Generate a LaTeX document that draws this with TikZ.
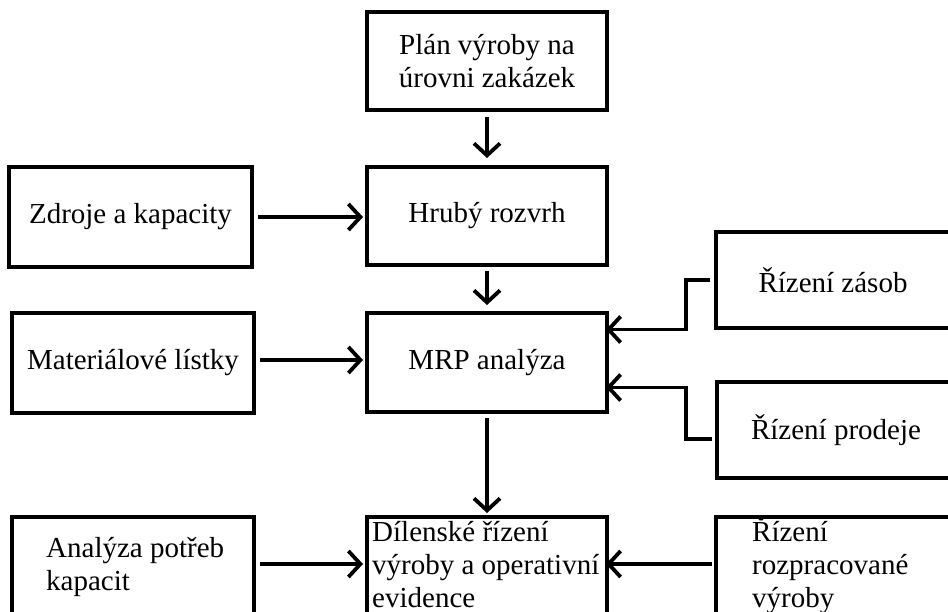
\documentclass[tikz,border=0pt]{standalone}
\usepackage{fontspec}
\setmainfont{Liberation Serif}
\usetikzlibrary{arrows.meta}
\begin{document}
\begin{tikzpicture}[x=1pt,y=-1pt,
  txt/.style={font=\fontsize{29}{33}\selectfont},
  box/.style={draw, line width=4pt, inner sep=0pt, align=center, txt},
  lbl/.style={anchor=west, align=left, inner sep=0pt, txt},
  conn/.style={line width=3.8pt, -{Straight Barb[length=12pt,width=26pt,line width=3.8pt]}}]
\useasboundingbox (0,0) rectangle (948,612);
\clip (0,0) rectangle (948,612);

% boxes of the planning chain
\node[box, minimum width=240pt, minimum height=98pt] (plan) at (487,61) {Plán výroby na\\úrovni zakázek};
\node[box, minimum width=240pt, minimum height=98pt] (hruby) at (487,216) {Hrubý rozvrh};
\node[box, minimum width=240pt, minimum height=99pt] (mrp) at (487,362.5) {MRP analýza};
\node[box, minimum width=240pt, minimum height=99pt] (dil) at (487,566.5) {};

% inputs on the left
\node[box, minimum width=243pt, minimum height=100pt] (zdroje) at (130.5,217) {Zdroje a kapacity};
\node[box, minimum width=242pt, minimum height=100pt] (mat) at (133,363) {Materiálové lístky};
\node[box, minimum width=242pt, minimum height=100pt] (anal) at (133,567) {};

% inputs on the right
\node[box, minimum width=234pt, minimum height=96pt] (zasob) at (833,280) {Řízení zásob};
\node[box, minimum width=238pt, minimum height=96pt] (prodeje) at (836,430) {Řízení prodeje};
\node[box, minimum width=244pt, minimum height=100pt] (rozp) at (838,567) {};

% left-aligned texts of the bottom row
\node[lbl] (dilt) at (372,565) {Dílenské řízení\\výroby a operativní\\evidence};
\node[lbl] (analt) at (46,567) {Analýza potřeb\\kapacit};
\node[lbl] (rozpt) at (752,565) {Řízení\\rozpracované\\výroby};

% vertical flow
\draw[conn, shorten <=5pt, shorten >=7pt] (plan.south) -- (hruby.north);
\draw[conn, shorten <=4pt, shorten >=6pt] (hruby.south) -- (mrp.north);
\draw[conn, shorten <=4pt, shorten >=2pt] (mrp.south) -- (dil.north);

% horizontal inputs
\draw[conn, shorten <=4pt, shorten >=2pt] (zdroje.east) -- (zdroje.east -| hruby.west);
\draw[conn, shorten <=4pt, shorten >=2pt] ([yshift=3pt]mat.east) -- ([yshift=3pt]mat.east -| mrp.west);
\draw[conn, shorten <=4pt, shorten >=2pt] ([yshift=3pt]anal.east) -- ([yshift=3pt]anal.east -| dil.west);
\draw[conn, shorten <=2pt, shorten >=-3pt] ([yshift=3pt]rozp.west) -- ([yshift=3pt]rozp.west -| dil.east);

% elbow connectors from the right
\draw[conn, shorten <=4pt, shorten >=-3pt] (zasob.west) -- ++(-28,0) |- ([yshift=33pt]mrp.east);
\draw[conn, shorten <=3pt, shorten >=-3pt] ([yshift=-9pt]prodeje.west) -- ++(-29,0) |- ([yshift=-25pt]mrp.east);
\end{tikzpicture}
\end{document}
